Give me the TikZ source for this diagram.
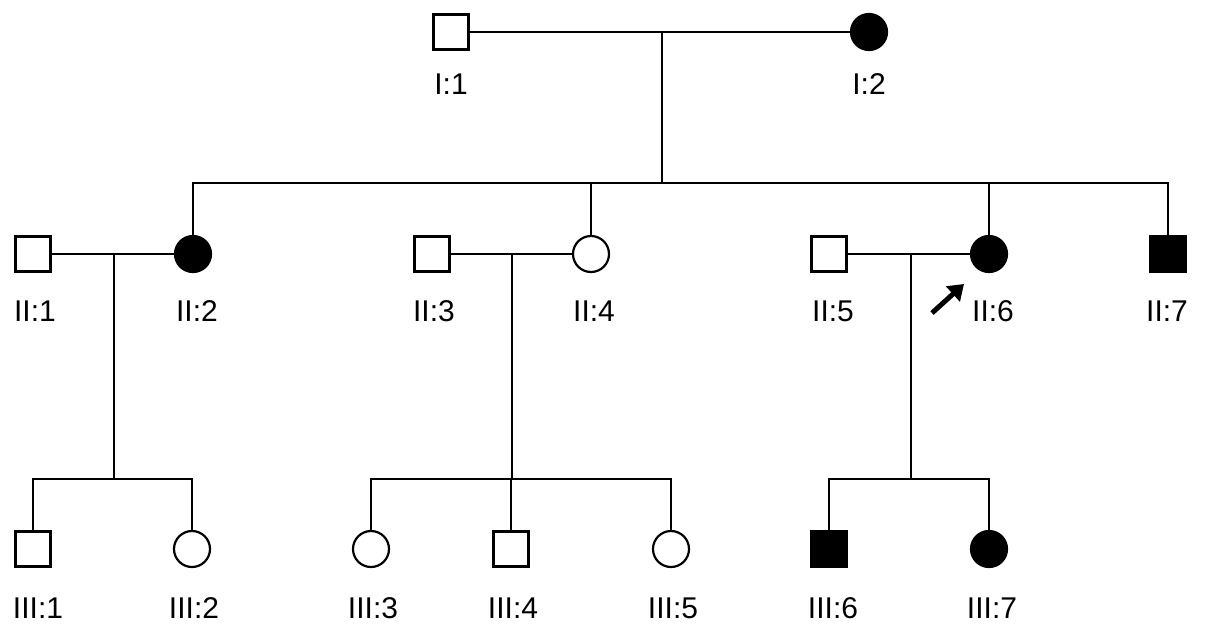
\documentclass[tikz,border=0pt]{standalone}
\usepackage{fontspec}
\setmainfont{Liberation Sans}
\usetikzlibrary{arrows.meta}
\begin{document}
\begin{tikzpicture}[x=1pt,y=-1pt,
  line width=2.3pt, line join=miter,
  male/.style={draw,rectangle,minimum size=35pt,inner sep=0pt,line width=2.2pt},
  female/.style={draw,circle,minimum size=36pt,inner sep=0pt,line width=2.2pt},
  aff/.style={fill=black},
  lbl/.style={font=\fontsize{30}{32}\selectfont,inner sep=0pt,anchor=center},
  proband/.style={line width=5pt,-{Triangle[length=15pt,width=20pt]}}]
\useasboundingbox (0,0) rectangle (1205,630);
% Generation I
\node[male] (I1) at (451,32) {};
\node[female,aff] (I2) at (869,32) {};
\node[lbl] (lI1) at (451,84) {I:1};
\node[lbl] (lI2) at (869,84) {I:2};
% Generation II
\node[male] (II1) at (33,254) {};
\node[female,aff] (II2) at (193,254) {};
\node[male] (II3) at (432,254) {};
\node[female] (II4) at (591,254) {};
\node[male] (II5) at (829,254) {};
\node[female,aff] (II6) at (989,254) {};
\node[male,aff] (II7) at (1168,254) {};
\node[lbl] (lII1) at (35,311) {II:1};
\node[lbl] (lII2) at (197,311) {II:2};
\node[lbl] (lII3) at (434,311) {II:3};
\node[lbl] (lII4) at (594,311) {II:4};
\node[lbl] (lII5) at (833,311) {II:5};
\node[lbl] (lII6) at (993,311) {II:6};
\node[lbl] (lII7) at (1167,311) {II:7};
% Generation III
\node[male] (III1) at (33,549) {};
\node[female] (III2) at (192,549) {};
\node[female] (III3) at (371,549) {};
\node[male] (III4) at (511,549) {};
\node[female] (III5) at (671,549) {};
\node[male,aff] (III6) at (829,549) {};
\node[female,aff] (III7) at (989,549) {};
\node[lbl] (lIII1) at (38,608) {III:1};
\node[lbl] (lIII2) at (194,608) {III:2};
\node[lbl] (lIII3) at (373,608) {III:3};
\node[lbl] (lIII4) at (513,608) {III:4};
\node[lbl] (lIII5) at (673,608) {III:5};
\node[lbl] (lIII6) at (833,608) {III:6};
\node[lbl] (lIII7) at (992,608) {III:7};
% Coordinates
\coordinate (m1) at (662,32);
\coordinate (s1) at (662,183);
\coordinate (m2) at (114,254);
\coordinate (s2) at (114,479);
\coordinate (m3) at (512,254);
\coordinate (s3) at (512,479);
\coordinate (m4) at (911,254);
\coordinate (s4) at (911,479);
% Generation I mating & sibship
\draw (I1.east) -- (I2.west);
\draw (m1) -- (s1);
\draw (II2.north) |- (s1) -| (II7.north);
\draw (II4.north) -- (II4.north |- s1);
\draw (II6.north) -- (II6.north |- s1);
% Generation II matings
\draw (II1.east) -- (II2.west);
\draw (II3.east) -- (II4.west);
\draw (II5.east) -- (II6.west);
\draw (m2) -- (s2);
\draw (m3) -- (s3);
\draw (m4) -- (s4);
% Sibships III
\draw (III1.north) |- (s2) -| (III2.north);
\draw (III3.north) |- (s3) -| (III5.north);
\draw (III4.north) -- (III4.north |- s3);
\draw (III6.north) |- (s4) -| (III7.north);
% Proband arrow
\coordinate (pa) at (932,313);
\coordinate (pb) at (964,284);
\draw[proband] (pa) -- (pb);
\end{tikzpicture}
\end{document}
